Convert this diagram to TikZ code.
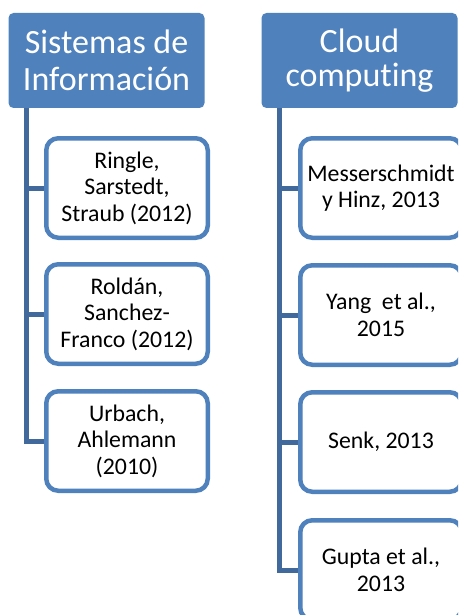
\documentclass[tikz,border=0pt]{standalone}
\usepackage{fontspec}
\setmainfont[Ligatures=NoCommon]{Carlito}
\usetikzlibrary{backgrounds}
\definecolor{accent}{HTML}{4F81BD}
\definecolor{trunk}{HTML}{41699B}
\tikzset{
  header/.style={fill=accent, draw=none, rounded corners=5pt, minimum width=196pt,
    minimum height=95pt, text=white, align=center, inner sep=0pt},
  refbox/.style={draw=accent, line width=4.5pt, fill=white, rounded corners=12pt,
    minimum width=161.5pt, minimum height=99.5pt, align=center, inner sep=0pt,
    font=\fontsize{23.8}{26.5}\selectfont},
  link/.style={draw=trunk, line width=5pt},
}
\begin{document}
\begin{tikzpicture}[x=1pt,y=1pt]
  \useasboundingbox (0,0) rectangle (458,-615);
  \clip (0,0) rectangle (458,-615);

  % column headers
  \node[header, font=\fontsize{34}{36.5}\selectfont] (h1) at (106.5,-60.5) {Sistemas de\\Información};
  \node[header, font=\fontsize{34}{33.5}\selectfont] (h2) at (359.5,-60.5) {Cloud\\computing};

  % left column references
  \node[refbox] (a1) at (127,-188) {Ringle,\\Sarstedt,\\Straub (2012)};
  \node[refbox] (a2) at (127,-314) {Roldán,\\Sanchez-\\Franco (2012)};
  \node[refbox] (a3) at (127,-441) {Urbach,\\Ahlemann\\(2010)};

  % right column references
  \node[refbox] (c1) at (381,-188) {Messerschmidt\\y Hinz, 2013};
  \node[refbox] (c2) at (381,-315) {Yang~~et al.,\\2015};
  \node[refbox] (c3) at (381,-442) {Senk, 2013};
  \node[refbox] (c4) at (381,-570) {Gupta et al.,\\2013};

  % trunks and branches, kept behind the boxes
  \coordinate (t1) at ([xshift=18pt]h1.south west);
  \coordinate (t2) at ([xshift=18pt]h2.south west);
  \begin{pgfonlayer}{background}
    \draw[link] (t1) |- (a3.west);
    \draw[link] (a1.west) -- (a1.west -| t1);
    \draw[link] (a2.west) -- (a2.west -| t1);
    \draw[link] (t2) |- (c4.west);
    \draw[link] (c1.west) -- (c1.west -| t2);
    \draw[link] (c2.west) -- (c2.west -| t2);
    \draw[link] (c3.west) -- (c3.west -| t2);
  \end{pgfonlayer}
\end{tikzpicture}
\end{document}
